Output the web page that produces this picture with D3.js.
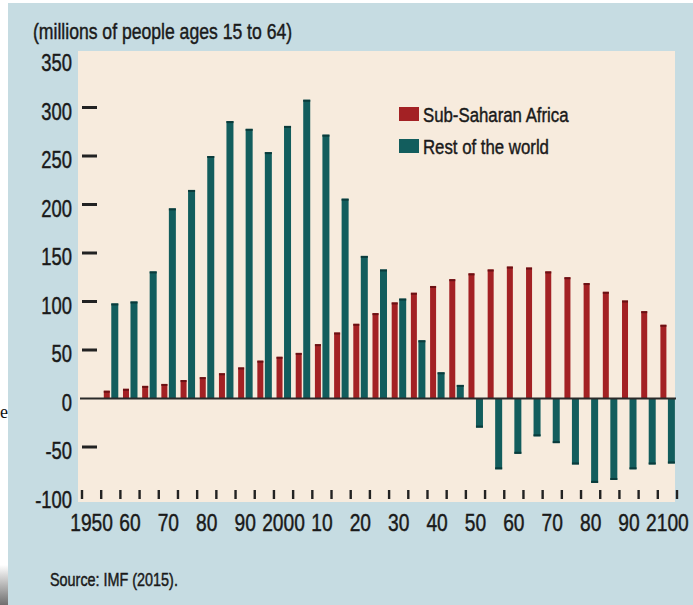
<!DOCTYPE html>
<html><head><meta charset="utf-8">
<script src="https://cdn.jsdelivr.net/npm/d3@7"></script>
<style>html,body{margin:0;padding:0;background:#fff;}svg{display:block;}</style>
</head><body>
<script>
const years = [1955,1960,1965,1970,1975,1980,1985,1990,1995,2000,2005,2010,2015,2020,2025,2030,2035,2040,2045,2050,2055,2060,2065,2070,2075,2080,2085,2090,2095,2100];
const subSaharanAfrica = [8,10,13,15,19,22,26,32,39,43,47,56,68,77,88,99,109,116,123,129,133,136,135,131,125,119,110,101,90,76];
const restOfWorld = [98,100,131,196,215,250,286,278,254,281,308,272,206,147,133,103,60,27,14,-30,-73,-57,-39,-46,-68,-87,-84,-73,-68,-67];
const yTickValues = [350,300,250,200,150,100,50,0,-50,-100];
const xLabelYears = [1950,1960,1970,1980,1990,2000,2010,2020,2030,2040,2050,2060,2070,2080,2090,2100];
const xLabels = ["1950","60","70","80","90","2000","10","20","30","40","50","60","70","80","90","2100"];
const seriesNames = ["Sub-Saharan Africa","Rest of the world"];
const title = "(millions of people ages 15 to 64)";
const source = "Source: IMF (2015).";

const W = 693, H = 605;
const RED = "#a32124", RED_D = "#6b1114", TEAL = "#125d5d", TEAL_D = "#0a3b3b";
const FONT = "'Liberation Sans',Arial,sans-serif";
const SX = 0.8; // condensed look

const svg = d3.select("body").append("svg").attr("width", W).attr("height", H);

function ctext(parent, px, py, size, anchor, str) {
  return parent.append("text")
    .attr("transform", `translate(${px},${py}) scale(${SX},1)`)
    .attr("text-anchor", anchor)
    .attr("font-family", FONT).attr("font-size", size).attr("fill", "#1a1a1a")
    .attr("stroke", "#1a1a1a").attr("stroke-width", 0.45)
    .text(str);
}

// page fragments
svg.append("rect").attr("width", W).attr("height", H).attr("fill", "#ffffff");
const defs = svg.append("defs");
const g1 = defs.append("linearGradient").attr("id","lg").attr("x1",0).attr("y1",0).attr("x2",0).attr("y2",1);
g1.append("stop").attr("offset","0%").attr("stop-color","#ffffff");
g1.append("stop").attr("offset","100%").attr("stop-color","#6f6f6f");
svg.append("rect").attr("x",0).attr("y",565).attr("width",8).attr("height",40).attr("fill","url(#lg)");
svg.append("text").attr("x",0).attr("y",418).attr("font-family","'Liberation Serif',serif").attr("font-size",18).attr("fill","#111").text("e");

// panel background
svg.append("rect").attr("x", 8).attr("y", 3).attr("width", W - 8).attr("height", H - 3).attr("fill", "#c6dce2");

const x = d3.scaleLinear().domain([1947.5, 2102.5]).range([82, 677]);
const y = d3.scaleLinear().domain([-100, 350]).range([495.5, 59]);

// plot area
svg.append("rect").attr("x", 78).attr("y", 51).attr("width", 597).attr("height", 451).attr("fill", "#f7ebdd");

// title
ctext(svg, 33, 39, 22, "start", title);

// y labels
const yl = svg.append("g");
yTickValues.forEach(v => ctext(yl, 72, y(v) + 12, 23, "end", v));
// y dashes
svg.append("g").selectAll("rect").data(yTickValues.filter(d => d !== 0 && d < 350 && d > -100)).join("rect")
  .attr("x", 82).attr("y", d => y(d) - 1.5).attr("width", 15).attr("height", 3).attr("fill", "#222");

// bars
const data = years.map((yr, i) => ({yr, a: subSaharanAfrica[i], r: restOfWorld[i]}));
const bars = svg.append("g");
bars.selectAll(".ssa").data(data).join("rect").attr("class","ssa")
  .attr("x", d => x(d.yr) - 7).attr("width", 6)
  .attr("y", d => y(Math.max(0, d.a))).attr("height", d => Math.abs(y(d.a) - y(0))).attr("fill", RED);
bars.selectAll(".ssac").data(data).join("rect").attr("class","ssac")
  .attr("x", d => x(d.yr) - 7).attr("width", 6)
  .attr("y", d => y(d.a)).attr("height", 2).attr("fill", RED_D);
bars.selectAll(".row").data(data).join("rect").attr("class","row")
  .attr("x", d => x(d.yr) + 0.5).attr("width", 7)
  .attr("y", d => y(Math.max(0, d.r))).attr("height", d => Math.abs(y(d.r) - y(0))).attr("fill", TEAL);
bars.selectAll(".rowc").data(data).join("rect").attr("class","rowc")
  .attr("x", d => x(d.yr) + 0.5).attr("width", 7)
  .attr("y", d => d.r >= 0 ? y(d.r) : y(d.r) - 2).attr("height", 2).attr("fill", TEAL_D);

// zero line
svg.append("line").attr("x1", 80).attr("x2", 676).attr("y1", y(0)).attr("y2", y(0))
  .attr("stroke", "#2a2a2a").attr("stroke-width", 2);

// x ticks (between the five-year pairs)
const xTicks = d3.range(1947.5, 2103, 5);
svg.append("g").selectAll("rect").data(xTicks).join("rect")
  .attr("x", d => x(d) - 1.2).attr("y", 490).attr("width", 2.4).attr("height", 9).attr("fill", "#222");

// x labels
const xl = svg.append("g");
xLabelYears.forEach((d, i) => ctext(xl, x(d), 531, 24, "middle", xLabels[i]));

// legend
const leg = svg.append("g");
[RED, TEAL].forEach((c, i) => {
  leg.append("rect").attr("x", 399).attr("y", 107 + i * 32).attr("width", 20).attr("height", 14).attr("fill", c);
  ctext(leg, 423, 122 + i * 32, 21, "start", seriesNames[i]);
});

// source
ctext(svg, 50, 586, 18, "start", source);
</script>
</body></html>
